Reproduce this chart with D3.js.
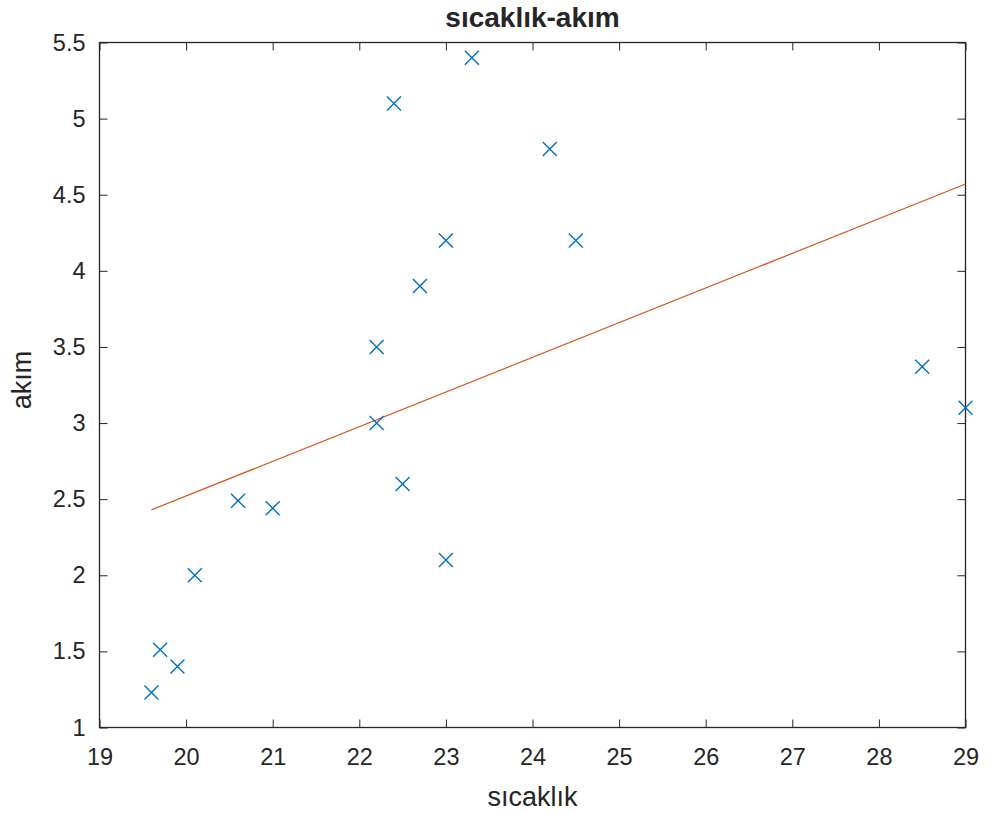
<!DOCTYPE html>
<html>
<head>
<meta charset="utf-8">
<script src="https://cdn.jsdelivr.net/npm/d3@7"></script>
<style>
  body { margin: 0; background: #fff; }
  svg text { font-family: "Liberation Sans", Arial, sans-serif; fill: #262626; }
</style>
</head>
<body>
<svg class="chart"></svg>
<script>
// measured values (sıcaklık, akım)
var sicaklik = [19.6, 19.7, 19.9, 20.1, 20.6, 21.0, 22.2, 22.2, 22.4, 22.5, 22.7, 23.0, 23.0, 23.3, 24.2, 24.5, 28.5, 29.0];
var akim     = [1.23, 1.51, 1.40, 2.00, 2.49, 2.44, 3.50, 3.00, 5.10, 2.60, 3.90, 4.20, 2.10, 5.40, 4.80, 4.20, 3.37, 3.10];

// fitted line end points
var fitX = [19.6, 29.0];
var fitY = [2.43, 4.57];

var xTicks = [19, 20, 21, 22, 23, 24, 25, 26, 27, 28, 29];
var yTicks = [1, 1.5, 2, 2.5, 3, 3.5, 4, 4.5, 5, 5.5];

WIDTH = 996;
HEIGHT = 814;
MARGIN = { top: 42.5, right: 30.5, bottom: 86.5, left: 99.5 };

var svg = d3.select(".chart").attr("width", WIDTH).attr("height", HEIGHT);
var w = WIDTH - MARGIN.left - MARGIN.right;
var h = HEIGHT - MARGIN.top - MARGIN.bottom;

var x = d3.scaleLinear().domain([19, 29]).range([0, w]);
var y = d3.scaleLinear().domain([1, 5.5]).range([h, 0]);

var g = svg.append("g")
    .attr("transform", "translate(" + MARGIN.left + "," + MARGIN.top + ")");

function styleAxis(sel, labels) {
    sel.select(".domain").remove();
    sel.selectAll(".tick line").attr("stroke", "#262626").attr("stroke-width", 1);
    if (labels) {
        sel.selectAll(".tick text").style("font-size", "23.5px").attr("fill", "#262626");
    }
}

// bottom + left (labelled), top + right (ticks only), ticks point inwards
g.append("g").attr("transform", "translate(0," + h + ")")
    .call(d3.axisBottom(x).tickValues(xTicks).tickFormat(d3.format("d")).tickSizeInner(-8).tickPadding(21))
    .call(styleAxis, true);
g.append("g")
    .call(d3.axisLeft(y).tickValues(yTicks).tickFormat(function(d) { return d; }).tickSizeInner(-8).tickPadding(14))
    .call(styleAxis, true);
g.append("g")
    .call(d3.axisTop(x).tickValues(xTicks).tickFormat("").tickSizeInner(-8))
    .call(styleAxis, false);
g.append("g").attr("transform", "translate(" + w + ",0)")
    .call(d3.axisRight(y).tickValues(yTicks).tickFormat("").tickSizeInner(-8))
    .call(styleAxis, false);

g.append("rect")
    .attr("width", w).attr("height", h)
    .attr("fill", "none").attr("stroke", "#262626").attr("stroke-width", 1.3);

// fit line
var line = d3.line()
    .x(function(d) { return x(d[0]); })
    .y(function(d) { return y(d[1]); });
g.append("path")
    .attr("d", line(d3.zip(fitX, fitY)))
    .attr("fill", "none")
    .attr("stroke", "#D95319")
    .attr("stroke-width", 1.2);

// x markers
var pts = d3.zip(sicaklik, akim);
var s = 7;
g.selectAll(".pt")
    .data(pts)
    .enter().append("path")
    .attr("class", "pt")
    .attr("transform", function(d) { return "translate(" + x(d[0]) + "," + y(d[1]) + ")"; })
    .attr("d", "M" + -s + "," + -s + "L" + s + "," + s + "M" + -s + "," + s + "L" + s + "," + -s)
    .attr("fill", "none")
    .attr("stroke", "#0072BD")
    .attr("stroke-width", 1.4);

// texts
svg.append("text")
    .attr("x", MARGIN.left + w / 2).attr("y", 27)
    .attr("text-anchor", "middle")
    .style("font-size", "28px").style("font-weight", "bold")
    .attr("fill", "#000")
    .text("sıcaklık-akım");

svg.append("text")
    .attr("x", MARGIN.left + w / 2).attr("y", 806)
    .attr("text-anchor", "middle")
    .style("font-size", "27px")
    .text("sıcaklık");

svg.append("text")
    .attr("transform", "translate(31,380) rotate(-90)")
    .attr("text-anchor", "middle")
    .style("font-size", "27px")
    .text("akım");
</script>
</body>
</html>
